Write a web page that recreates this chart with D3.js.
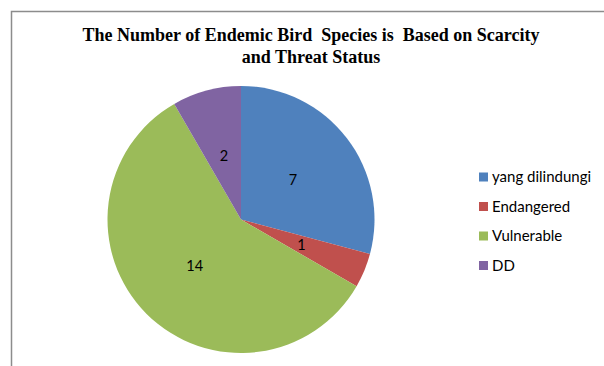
<!DOCTYPE html>
<html>
<head>
<meta charset="utf-8">
<script src="https://cdn.jsdelivr.net/npm/d3@7"></script>
<style>
  html, body { margin: 0; padding: 0; background: #fff; }
  svg { display: block; }
  .title { font-family: "Liberation Serif", "Times New Roman", serif; font-weight: bold; font-size: 18px; fill: #000; white-space: pre; }
  .lbl { font-family: Lato, "Open Sans", sans-serif; font-size: 14.5px; fill: #000; }
  .legend text { font-family: Lato, "Open Sans", sans-serif; font-size: 15px; fill: #000; }
</style>
</head>
<body>
<svg id="chart" width="604" height="366"></svg>
<script>
// Endemic bird species grouped by scarcity and threat status
const categories = ["yang dilindungi", "Endangered", "Vulnerable", "DD"];
const values = [7, 1, 14, 2];
const colors = ["#4F81BD", "#C0504D", "#9BBB59", "#8064A2"];
const titleLines = ["The Number of Endemic Bird  Species is  Based on Scarcity", "and Threat Status"];

const svg = d3.select("#chart");

// chart frame
svg.append("path")
  .attr("d", "M11.5,366 L11.5,11.5 L604,11.5")
  .attr("fill", "none")
  .attr("stroke", "#8c8c8c")
  .attr("stroke-width", 1.5);

// title
svg.selectAll("text.title").data(titleLines).join("text")
  .attr("class", "title")
  .attr("x", 311)
  .attr("y", (d, i) => 41 + i * 21.5)
  .attr("text-anchor", "middle")
  .text(d => d);

// pie
const cx = 241, cy = 219.5, r = 133.5;
const data = categories.map((c, i) => ({ name: c, value: values[i], color: colors[i] }));
const pie = d3.pie().value(d => d.value).sort(null);
const arcs = pie(data);
const arc = d3.arc().innerRadius(0).outerRadius(r);
const labelArc = d3.arc().innerRadius(r * 0.49).outerRadius(r * 0.49);

const g = svg.append("g").attr("transform", `translate(${cx},${cy})`);
g.selectAll("path").data(arcs).join("path")
  .attr("d", arc)
  .attr("fill", d => d.data.color);

g.selectAll("text.lbl").data(arcs).join("text")
  .attr("class", "lbl")
  .attr("transform", d => `translate(${labelArc.centroid(d)})`)
  .attr("text-anchor", "middle")
  .attr("dy", "0.35em")
  .text(d => d.data.value);

// legend
const legend = svg.append("g").attr("class", "legend").attr("transform", "translate(479,177)");
const rows = legend.selectAll("g").data(data).join("g")
  .attr("transform", (d, i) => `translate(0,${i * 29.5})`);
rows.append("rect")
  .attr("x", 0).attr("y", -4.5)
  .attr("width", 9).attr("height", 9)
  .attr("fill", d => d.color);
rows.append("text")
  .attr("x", 13)
  .attr("dy", "0.35em")
  .text(d => d.name);
</script>
</body>
</html>
